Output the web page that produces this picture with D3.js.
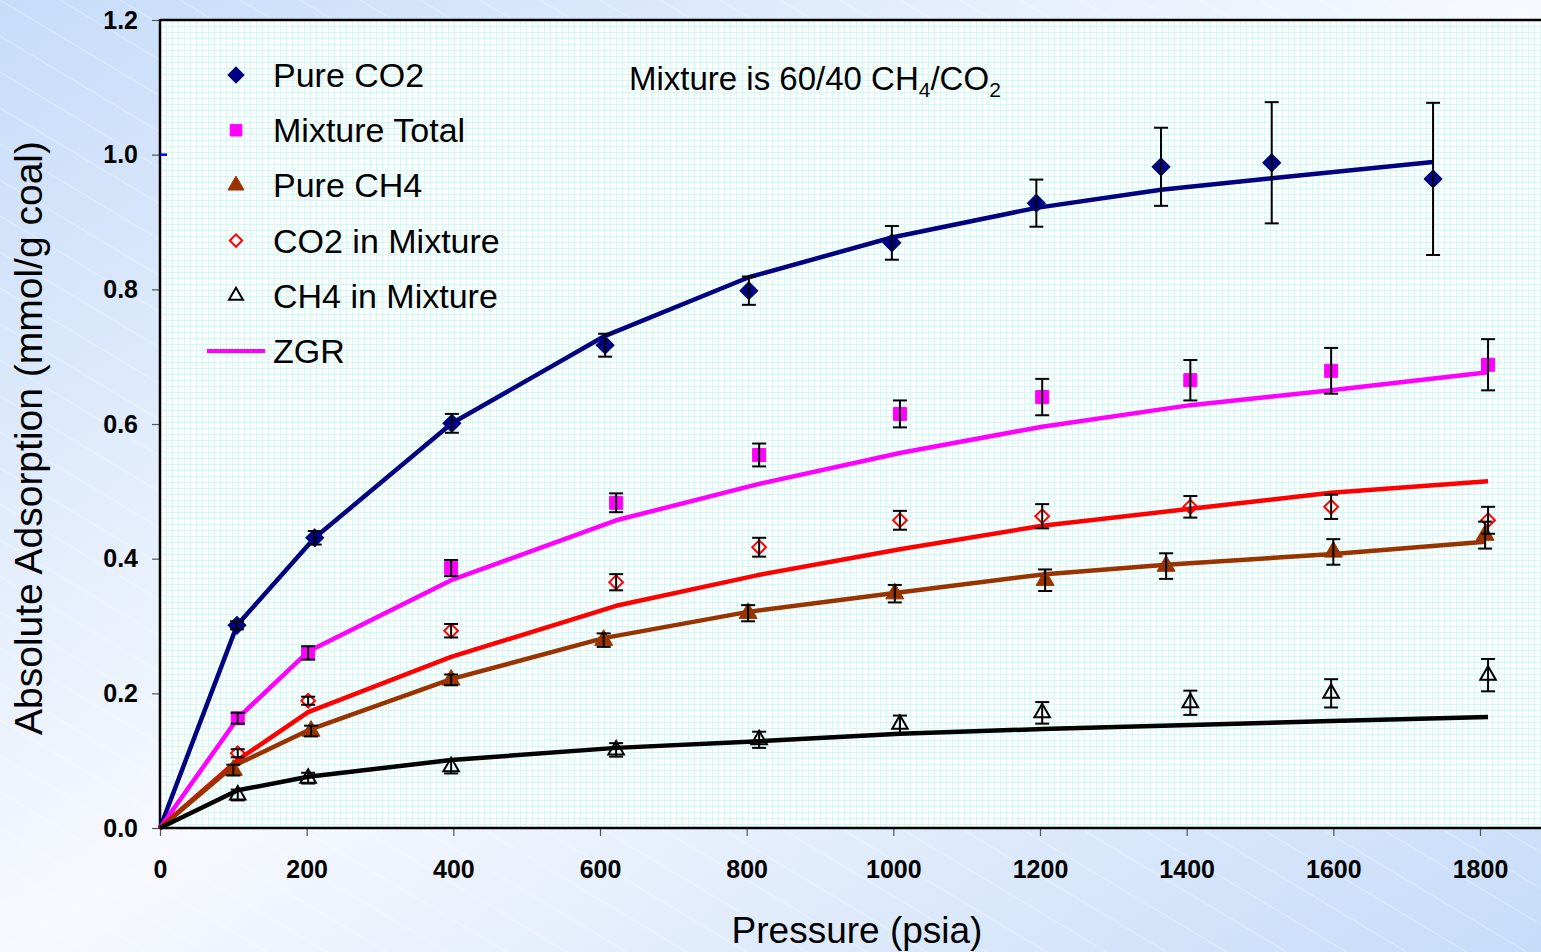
<!DOCTYPE html>
<html>
<head>
<meta charset="utf-8">
<script src="https://cdn.jsdelivr.net/npm/d3@7"></script>
<style>
  body { margin: 0; overflow: hidden; }
  svg { display: block; font-family: "Liberation Sans", Arial, sans-serif; }
</style>
</head>
<body>
<div id="chart"></div>
<script>
// measured points
var co2X   = [105, 211, 398, 607, 803, 998, 1195, 1365, 1516, 1736];
var co2Y   = [0.301, 0.431, 0.601, 0.717, 0.798, 0.869, 0.928, 0.982, 0.988, 0.964];
var co2Err = [0.006, 0.010, 0.014, 0.017, 0.021, 0.025, 0.035, 0.058, 0.090, 0.113];

var mixX     = [106, 202, 397, 622, 817, 1009, 1203, 1405, 1597, 1811];
var totY     = [0.163, 0.260, 0.386, 0.483, 0.554, 0.615, 0.640, 0.665, 0.679, 0.688];
var totErr   = [0.008, 0.010, 0.012, 0.014, 0.017, 0.020, 0.027, 0.030, 0.034, 0.038];
var co2mY    = [0.111, 0.189, 0.293, 0.365, 0.417, 0.457, 0.463, 0.477, 0.477, 0.457];
var co2mErr  = [0.006, 0.006, 0.010, 0.012, 0.014, 0.014, 0.018, 0.016, 0.018, 0.020];
var ch4mY    = [0.049, 0.074, 0.091, 0.116, 0.131, 0.154, 0.171, 0.186, 0.200, 0.227];
var ch4mErr  = [0.008, 0.008, 0.010, 0.010, 0.012, 0.013, 0.016, 0.018, 0.021, 0.024];

var ch4X   = [100, 206, 397, 605, 802, 1002, 1207, 1372, 1600, 1807];
var ch4Y   = [0.086, 0.144, 0.220, 0.279, 0.319, 0.348, 0.368, 0.389, 0.410, 0.435];
var ch4Err = [0.008, 0.008, 0.008, 0.010, 0.012, 0.013, 0.016, 0.019, 0.019, 0.020];

// ZGR model curves
var zgrCo2   = [0.301, 0.431, 0.601, 0.731, 0.818, 0.877, 0.921, 0.948, 0.965, 0.989];
var zgrTot   = [0.163, 0.262, 0.368, 0.457, 0.511, 0.557, 0.596, 0.628, 0.650, 0.677];
var zgrCo2m  = [0.101, 0.172, 0.254, 0.330, 0.376, 0.414, 0.449, 0.474, 0.498, 0.515];
var zgrCh4   = [0.092, 0.147, 0.221, 0.282, 0.321, 0.349, 0.377, 0.391, 0.407, 0.425];
var zgrCh4m  = [0.056, 0.076, 0.101, 0.119, 0.129, 0.140, 0.147, 0.153, 0.159, 0.165];

var xTicks = [0, 200, 400, 600, 800, 1000, 1200, 1400, 1600, 1800];
var yTicks = [0, 0.2, 0.4, 0.6, 0.8, 1.0, 1.2];

var legendNames = ["Pure CO2", "Mixture Total", "Pure CH4", "CO2 in Mixture", "CH4 in Mixture", "ZGR"];

var width = 1541, height = 952;
var plotLeft = 160, plotTop = 20, plotBottom = 828;

var x = d3.scaleLinear().domain([0, 1800]).range([plotLeft, 1480]);
var y = d3.scaleLinear().domain([0, 1.2]).range([plotBottom, plotTop]);

var svg = d3.select("#chart").append("svg")
    .attr("width", width)
    .attr("height", height);

var defs = svg.append("defs");
var bg = defs.append("linearGradient").attr("id", "bg")
    .attr("x1", 0).attr("y1", 0).attr("x2", 1).attr("y2", 1);
bg.append("stop").attr("offset", 0).attr("stop-color", "#c6dcf9");
bg.append("stop").attr("offset", 0.5).attr("stop-color", "#f7f9fe");
bg.append("stop").attr("offset", 1).attr("stop-color", "#c6dcf9");

var stripes = defs.append("pattern").attr("id", "stripes")
    .attr("patternUnits", "userSpaceOnUse")
    .attr("width", 60).attr("height", 36);
stripes.append("path").attr("d", "M0,0 L60,36")
    .attr("stroke", "#ffffff").attr("stroke-opacity", 0.35).attr("stroke-width", 1);

var grid = defs.append("pattern").attr("id", "grid")
    .attr("patternUnits", "userSpaceOnUse")
    .attr("x", plotLeft).attr("y", plotTop)
    .attr("width", 6).attr("height", 6);
grid.append("rect").attr("width", 6).attr("height", 6).attr("fill", "#fdffff");
grid.append("path").attr("d", "M0,0.5 H6 M0.5,0 V6")
    .attr("stroke", "#d2f8f8").attr("stroke-width", 1).attr("fill", "none");

svg.append("rect").attr("width", width).attr("height", height).attr("fill", "url(#bg)");
svg.append("rect").attr("width", width).attr("height", height).attr("fill", "url(#stripes)");

// plot area
svg.append("rect")
    .attr("x", plotLeft).attr("y", plotTop)
    .attr("width", width - plotLeft).attr("height", plotBottom - plotTop)
    .attr("fill", "url(#grid)");

// axes
var yAxis = svg.append("g")
    .attr("transform", "translate(" + plotLeft + ",0)")
    .call(d3.axisLeft(y).tickValues(yTicks).tickSize(8).tickPadding(14).tickFormat(d3.format(".1f")));
var xAxis = svg.append("g")
    .attr("transform", "translate(0," + plotBottom + ")")
    .call(d3.axisBottom(x).tickValues(xTicks).tickSize(8).tickPadding(24).tickFormat(d3.format("d")));

[xAxis, yAxis].forEach(function(g) {
  g.select(".domain").remove();
  g.selectAll(".tick line").attr("stroke", "#555").attr("stroke-width", 1.2);
  g.selectAll(".tick text")
    .attr("fill", "#000")
    .attr("font-size", 25)
    .attr("font-weight", "bold")
    .attr("font-family", "Liberation Sans, Arial, sans-serif");
});

svg.append("line").attr("x1", plotLeft).attr("x2", width).attr("y1", plotTop).attr("y2", plotTop)
    .attr("stroke", "#000").attr("stroke-width", 2.5);
svg.append("line").attr("x1", plotLeft).attr("x2", plotLeft).attr("y1", plotTop - 1).attr("y2", plotBottom + 1)
    .attr("stroke", "#000").attr("stroke-width", 2.5);
svg.append("line").attr("x1", plotLeft).attr("x2", width).attr("y1", plotBottom).attr("y2", plotBottom)
    .attr("stroke", "#000").attr("stroke-width", 2.5);
// stray blue tick at 1.0
svg.append("line").attr("x1", plotLeft).attr("x2", plotLeft + 7).attr("y1", y(1.0)).attr("y2", y(1.0))
    .attr("stroke", "#0000ff").attr("stroke-width", 2.5);

// axis titles
svg.append("text")
    .attr("x", 857).attr("y", 943)
    .attr("text-anchor", "middle")
    .attr("font-size", 37)
    .text("Pressure (psia)");
svg.append("text")
    .attr("transform", "translate(42,438) rotate(-90)")
    .attr("text-anchor", "middle")
    .attr("font-size", 39)
    .text("Absolute Adsorption (mmol/g coal)");

// series
var diamond = d3.symbolSquare;
var series = [
  { xs: co2X, ys: co2Y, err: co2Err, fit: zgrCo2, color: "#000080", sym: diamond, rot: 45, size: 160, fill: true },
  { xs: mixX, ys: totY, err: totErr, fit: zgrTot, color: "#ff00ff", sym: d3.symbolSquare, rot: 0, size: 170, fill: true },
  { xs: ch4X, ys: ch4Y, err: ch4Err, fit: zgrCh4, color: "#993300", sym: d3.symbolTriangle, rot: 0, size: 140, fill: true },
  { xs: mixX, ys: co2mY, err: co2mErr, fit: zgrCo2m, color: "#ff0000", sym: diamond, rot: 45, size: 95, fill: false },
  { xs: mixX, ys: ch4mY, err: ch4mErr, fit: zgrCh4m, color: "#000000", sym: d3.symbolTriangle, rot: 0, size: 105, fill: false }
];

var line = d3.line().x(function(d) { return x(d[0]); }).y(function(d) { return y(d[1]); });

var lineOrder = [0, 1, 3, 2, 4];
lineOrder.forEach(function(i) {
  var s = series[i];
  var pts = [[0, 0]].concat(s.xs.map(function(v, j) { return [v, s.fit[j]]; }));
  svg.append("path")
      .attr("d", line(pts))
      .attr("fill", "none")
      .attr("stroke", s.color)
      .attr("stroke-width", 4.5)
      .attr("stroke-linejoin", "round");
});

series.forEach(function(s) {
  var g = svg.append("g");
  s.xs.forEach(function(v, j) {
    g.append("path")
        .attr("d", d3.symbol().type(s.sym).size(s.size)())
        .attr("transform", "translate(" + x(v) + "," + y(s.ys[j]) + ") rotate(" + s.rot + ")")
        .attr("fill", s.fill ? s.color : "none")
        .attr("stroke", s.color)
        .attr("stroke-width", s.fill ? 1 : 2);
  });
});

series.forEach(function(s) {
  var g = svg.append("g").attr("stroke", "#000").attr("stroke-width", 2);
  s.xs.forEach(function(v, j) {
    var cx = x(v), y1 = y(s.ys[j] + s.err[j]), y2 = y(s.ys[j] - s.err[j]);
    g.append("line").attr("x1", cx).attr("x2", cx).attr("y1", y1).attr("y2", y2);
    g.append("line").attr("x1", cx - 7).attr("x2", cx + 7).attr("y1", y1).attr("y2", y1);
    g.append("line").attr("x1", cx - 7).attr("x2", cx + 7).attr("y1", y2).attr("y2", y2);
  });
});

// legend
var legend = svg.append("g");
legendNames.forEach(function(name, i) {
  var ly = 75 + i * 55.2;
  if (i < 5) {
    var s = series[i];
    legend.append("path")
        .attr("d", d3.symbol().type(s.sym).size(s.size * 0.8)())
        .attr("transform", "translate(236," + ly + ") rotate(" + s.rot + ")")
        .attr("fill", s.fill ? s.color : "none")
        .attr("stroke", s.color)
        .attr("stroke-width", s.fill ? 1 : 2);
  } else {
    legend.append("line")
        .attr("x1", 207).attr("x2", 265).attr("y1", ly).attr("y2", ly)
        .attr("stroke", "#ff00ff").attr("stroke-width", 4);
  }
  legend.append("text")
      .attr("x", 273).attr("y", ly + 12)
      .attr("font-size", 34)
      .text(name);
});

// annotation
var note = svg.append("text").attr("x", 629).attr("y", 90).attr("font-size", 33);
note.append("tspan").text("Mixture is 60/40 CH");
note.append("tspan").attr("font-size", 21).attr("dy", 7).text("4");
note.append("tspan").attr("dy", -7).text("/CO");
note.append("tspan").attr("font-size", 21).attr("dy", 7).text("2");
</script>
</body>
</html>
